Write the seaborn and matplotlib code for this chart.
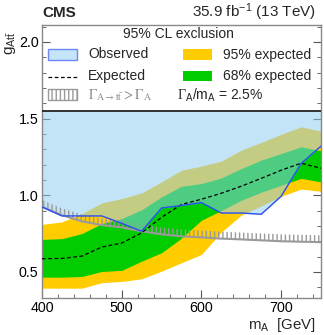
import numpy as np
import pandas as pd
import matplotlib
matplotlib.use("Agg")
import matplotlib.pyplot as plt
import matplotlib.patches as mpatches
from matplotlib.ticker import MultipleLocator
import seaborn as sns

# ---------------- data ----------------
mass = [400, 425, 450, 475, 500, 525, 550, 575, 600, 625, 650, 675, 700, 725, 750]
observed = [0.924, 0.865, 0.865, 0.865, 0.817, 0.765, 0.917, 0.933, 0.952, 0.884, 0.884, 0.876, 0.993, 1.207, 1.32]
expected = [0.586, 0.588, 0.603, 0.662, 0.688, 0.755, 0.856, 0.940, 0.974, 1.013, 1.059, 1.110, 1.163, 1.209, 1.176]
exp95_up = [0.81, 0.826, 0.88, 0.95, 0.978, 1.015, 1.087, 1.163, 1.19, 1.222, 1.294, 1.344, 1.397, 1.446, 1.418]
exp68_up = [0.712, 0.717, 0.75, 0.815, 0.848, 0.905, 0.989, 1.059, 1.076, 1.113, 1.174, 1.229, 1.272, 1.316, 1.29]
exp68_lo = [0.466, 0.466, 0.47, 0.503, 0.51, 0.57, 0.625, 0.72, 0.837, 0.90, 0.967, 1.02, 1.065, 1.11, 1.087]
exp95_lo = [0.394, 0.394, 0.394, 0.43, 0.438, 0.455, 0.505, 0.56, 0.614, 0.76, 0.87, 0.93, 0.993, 1.04, 1.026]
width_limit = [0.924, 0.87, 0.83, 0.805, 0.79, 0.765, 0.745, 0.732, 0.725, 0.717, 0.712, 0.706, 0.70, 0.697, 0.694]
plot_top = 1.55
x_ticks = [400, 500, 600, 700]
y_ticks = [0.5, 1.0, 1.5, 2.0]

df = pd.DataFrame({"mass": mass, "observed": observed, "expected": expected})

# ---------------- style ----------------
sns.set_style("ticks")
plt.rcParams["font.family"] = ["Liberation Sans", "DejaVu Sans"]
plt.rcParams["mathtext.fontset"] = "custom"
plt.rcParams["mathtext.rm"] = "Liberation Sans"
plt.rcParams["mathtext.it"] = "Liberation Sans:italic"
plt.rcParams["mathtext.sf"] = "Liberation Sans"
plt.rcParams["mathtext.bf"] = "Liberation Serif"
plt.rcParams["hatch.linewidth"] = 1.0

YELLOW = "#ffcc00"
GREEN = "#00cc00"
OBS_FILL = (144 / 255, 205 / 255, 242 / 255)
OBS_ALPHA = 0.54
OBS_LEGEND = (196 / 255, 228 / 255, 248 / 255)
BLUE = "#2b4df0"
GRAY = "#9a9a9a"

fig = plt.figure(figsize=(3.24, 3.35), dpi=100)
ax = fig.add_axes([42 / 324, 1 - 298 / 335, (321 - 42) / 324, (298 - 25) / 335])

ax.fill_between(mass, exp95_lo, exp95_up, color=YELLOW, lw=0, zorder=1)
ax.fill_between(mass, exp68_lo, exp68_up, color=GREEN, lw=0, zorder=1.1)
ax.fill_between(mass, observed, [plot_top] * len(mass), color=OBS_FILL, alpha=OBS_ALPHA, lw=0, zorder=2)

wl = np.array(width_limit)
ax.fill_between(mass, wl, wl + 0.045, facecolor="none", edgecolor=GRAY, hatch="||||", lw=0, zorder=3)
ax.plot(mass, width_limit, color=GRAY, lw=1.5, zorder=3.1)

sns.lineplot(data=df, x="mass", y="expected", ax=ax, color="black", lw=0.9,
             linestyle=(0, (3, 2)), zorder=4)
sns.lineplot(data=df, x="mass", y="observed", ax=ax, color=BLUE, lw=1.0, zorder=5)
ax.axhline(plot_top, color="#222222", lw=1.3, zorder=6)

ax.set_xlim(400, 750)
ax.set_ylim(0.33, 2.11)
ax.set_xticks(x_ticks)
ax.set_yticks(y_ticks)
ax.set_yticklabels(["0.5", "1.0", "1.5", "2.0"])
ax.xaxis.set_minor_locator(MultipleLocator(20))
ax.yaxis.set_minor_locator(MultipleLocator(0.1))
ax.tick_params(which="both", direction="in", right=True, top=False, colors="#555555",
               labelcolor="black", labelsize=10.3)
ax.tick_params(which="major", length=6, width=0.8, pad=2.5)
ax.tick_params(which="minor", length=3, width=0.6)
for s in ax.spines.values():
    s.set_color("#888888")
    s.set_linewidth(1.0)
ax.set_xlabel("")
ax.set_ylabel("")

# ---------------- legend (manual) ----------------
def ax_xy(px, py):
    return ((px - 42) / 279, (298 - py) / 273)

x0, _ = ax_xy(48, 0)
x1, _ = ax_xy(77, 0)
bw = x1 - x0
_, ya = ax_xy(0, 60)
_, yb = ax_xy(0, 49)
bh = yb - ya

ax.add_patch(mpatches.Rectangle((x0, ya), bw, bh, transform=ax.transAxes, facecolor=OBS_LEGEND,
                                edgecolor="#6f86f5", lw=1.0, zorder=10))
_, yexp = ax_xy(0, 77)
ax.plot([x0, x1], [yexp, yexp], transform=ax.transAxes, color="black", lw=0.9,
        linestyle=(0, (3, 2)), zorder=10)
_, yh0 = ax_xy(0, 100)
_, yh1 = ax_xy(0, 89)
ax.add_patch(mpatches.Rectangle((x0, yh0), bw, yh1 - yh0, transform=ax.transAxes, facecolor="white",
                                edgecolor=GRAY, hatch="||||", lw=1.0, zorder=10))

cx0, _ = ax_xy(183, 0)
cx1, _ = ax_xy(212, 0)
ax.add_patch(mpatches.Rectangle((cx0, ya), cx1 - cx0, bh, transform=ax.transAxes, facecolor=YELLOW,
                                lw=0, zorder=10))
_, yg0 = ax_xy(0, 81)
_, yg1 = ax_xy(0, 71)
ax.add_patch(mpatches.Rectangle((cx0, yg0), cx1 - cx0, yg1 - yg0, transform=ax.transAxes,
                                facecolor=GREEN, lw=0, zorder=10))

fs = 10
tx, _ = ax_xy(88, 0)
ax.text(tx, ax_xy(0, 54.5)[1], "Observed", transform=ax.transAxes, fontsize=fs, va="center")
ax.text(tx, ax_xy(0, 76)[1], "Expected", transform=ax.transAxes, fontsize=fs, va="center")
ax.text(tx, ax_xy(0, 95)[1], r"$\Gamma_{\mathrm{A\rightarrow t\bar{t}}} > \Gamma_{\mathrm{A}}$",
        transform=ax.transAxes, fontsize=fs, va="center", color="#888888", math_fontfamily="stix")
tx2, _ = ax_xy(223, 0)
ax.text(tx2, ax_xy(0, 54.5)[1], "95% expected", transform=ax.transAxes, fontsize=fs, va="center")
ax.text(tx2, ax_xy(0, 76)[1], "68% expected", transform=ax.transAxes, fontsize=fs, va="center")
tx3, _ = ax_xy(177, 0)
ax.text(tx3, ax_xy(0, 95)[1], r"$\mathbf{\Gamma}_\mathrm{A}$/m$_\mathrm{A}$ = 2.5%",
        transform=ax.transAxes, fontsize=fs, va="center")
ax.text(ax_xy(178, 0)[0], ax_xy(0, 34)[1], "95% CL exclusion", transform=ax.transAxes,
        fontsize=fs, va="center", ha="center")

# ---------------- titles / labels ----------------
fig.text(42 / 324, 1 - 17 / 335, "CMS", fontsize=11, fontweight="bold", va="baseline", ha="left")
fig.text(316 / 324, 1 - 17 / 335, r"35.9 fb$^{-1}$ (13 TeV)", fontsize=11, va="baseline", ha="right")
fig.text(11 / 324, 1 - 31 / 335, r"g$_{\mathrm{At\bar{t}}}$", fontsize=11, rotation=90,
         ha="center", va="top")
fig.text(316 / 324, 1 - 334 / 335, r"m$_\mathrm{A}$  [GeV]", fontsize=10.8, ha="right", va="bottom")

fig.savefig("out.png", dpi=100)
